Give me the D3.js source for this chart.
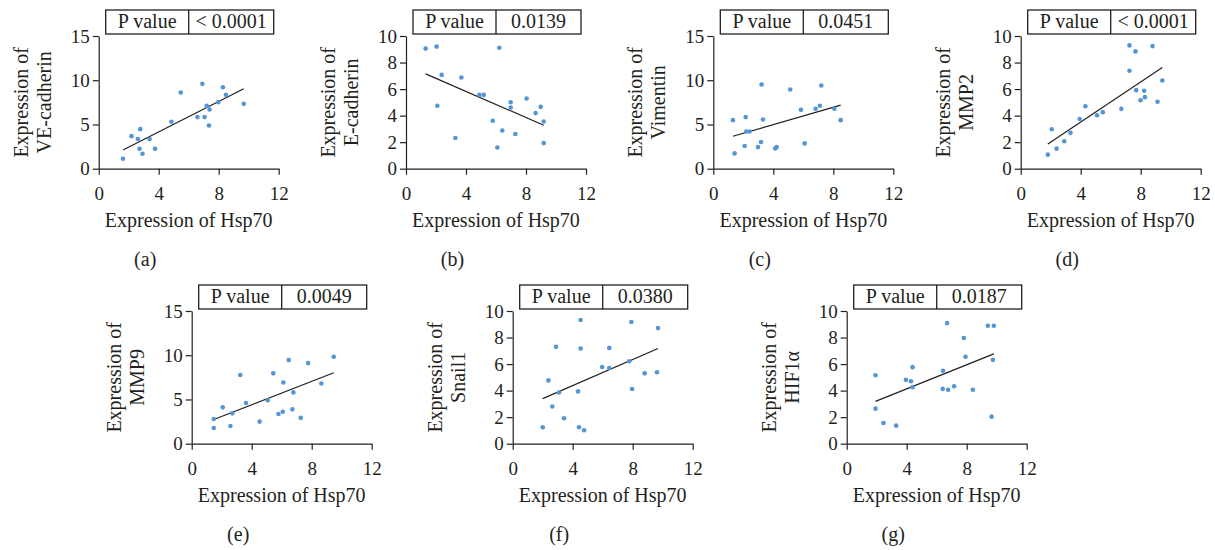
<!DOCTYPE html>
<html>
<head>
<meta charset="utf-8">
<script src="https://cdn.jsdelivr.net/npm/d3@7"></script>
<style>
	body { margin: 0; background: #fff; }
	svg text { font-family: "Liberation Serif", "DejaVu Serif", serif; fill: #231f20; }
</style>
</head>
<body>
<svg id="chart" width="1215" height="550"></svg>
<script>
"use strict";

// x = expression of Hsp70, y = expression of the marker
var veX = [1.62, 2.19, 2.61, 2.77, 2.72, 2.92, 3.39, 3.76, 4.85, 5.47, 6.58, 6.91, 7.06, 7.20, 7.39, 7.35, 7.97, 8.28, 8.48, 9.67];
var veY = [1.13, 3.68, 3.35, 4.47, 2.26, 1.69, 3.35, 2.26, 5.30, 8.61, 5.83, 9.59, 5.83, 7.11, 6.69, 4.89, 7.52, 9.21, 8.35, 7.33];

var ecadX = [1.31, 2.04, 2.09, 2.38, 3.29, 3.69, 4.89, 5.18, 5.78, 6.09, 6.22, 6.42, 6.98, 6.98, 7.29, 8.04, 8.64, 8.98, 9.18, 9.18];
var ecadY = [9.05, 9.20, 4.74, 7.07, 2.31, 6.87, 5.56, 5.56, 3.61, 1.60, 9.12, 2.88, 5.01, 4.61, 2.61, 5.29, 4.19, 4.66, 3.56, 1.93];

var vimX = [1.31, 1.42, 2.09, 2.16, 2.20, 2.42, 2.98, 3.18, 3.22, 3.31, 4.13, 4.22, 5.13, 5.84, 6.09, 6.82, 7.11, 7.20, 8.07, 8.49];
var vimY = [5.49, 1.73, 2.56, 5.83, 4.21, 4.21, 2.44, 3.01, 9.51, 5.56, 2.29, 2.44, 8.95, 6.65, 2.86, 6.77, 7.11, 9.40, 6.77, 5.49];

var mmp2X = [1.81, 2.07, 2.39, 2.90, 3.32, 3.93, 4.31, 5.09, 5.47, 6.71, 7.25, 7.25, 7.65, 7.70, 7.99, 8.23, 8.28, 8.79, 9.12, 9.44];
var mmp2Y = [1.06, 2.97, 1.51, 2.07, 2.70, 3.75, 4.71, 4.03, 4.26, 4.51, 9.29, 7.38, 8.84, 5.92, 5.16, 5.87, 5.39, 9.24, 5.04, 6.65];

var mmp9X = [1.47, 1.47, 2.07, 2.58, 2.71, 3.24, 3.62, 4.53, 5.07, 5.44, 5.78, 6.07, 6.11, 6.47, 6.71, 6.78, 7.27, 7.76, 8.64, 9.47];
var mmp9Y = [2.79, 1.77, 4.11, 2.00, 3.43, 7.76, 4.60, 2.50, 4.90, 7.95, 3.36, 3.62, 6.92, 9.45, 3.88, 5.80, 2.92, 9.11, 6.81, 9.83];

var snailX = [2.00, 2.38, 2.64, 2.89, 3.09, 3.42, 4.36, 4.42, 4.53, 4.53, 4.76, 5.96, 6.44, 6.44, 7.76, 7.91, 7.96, 8.80, 9.62, 9.69];
var snailY = [1.24, 4.77, 2.80, 7.30, 3.86, 1.92, 3.94, 1.24, 9.32, 7.17, 1.01, 5.78, 7.22, 5.71, 6.21, 9.17, 4.12, 5.30, 5.38, 8.71];

var hifX = [1.92, 1.92, 2.45, 3.30, 3.95, 4.28, 4.39, 4.39, 6.40, 6.42, 6.69, 6.76, 7.16, 7.81, 7.92, 8.41, 9.41, 9.66, 9.75, 9.81];
var hifY = [5.16, 2.64, 1.56, 1.36, 4.81, 4.71, 5.77, 4.26, 4.13, 5.49, 9.09, 4.06, 4.33, 7.96, 6.55, 4.06, 8.89, 2.04, 6.32, 8.89];

var markers = ["VE-cadherin", "E-cadherin", "Vimentin", "MMP2", "MMP9", "Snail1", "HIF1\u03b1"];
var pValues = ["< 0.0001", "0.0139", "0.0451", "< 0.0001", "0.0049", "0.0380", "0.0187"];
var captions = ["(a)", "(b)", "(c)", "(d)", "(e)", "(f)", "(g)"];
var yMax = [15, 10, 15, 10, 15, 10, 10];
var xTicks = [0, 4, 8, 12];

var seriesX = [veX, ecadX, vimX, mmp2X, mmp9X, snailX, hifX];
var seriesY = [veY, ecadY, vimY, mmp2Y, mmp9Y, snailY, hifY];

// where each plot area sits (left edge of axis, top of y range)
var origins = [[98.7, 36], [406, 36], [713.3, 36], [1020.7, 36], [191.7, 311], [512.7, 311], [846.7, 311]];
var plotW = 180, plotH = 132.7;
var serif = "'Liberation Serif', 'DejaVu Serif', serif";

var svg = d3.select("#chart");

for (var i = 0; i < markers.length; i++) {
	drawPanel(i);
}

function drawPanel(i) {
	var left = origins[i][0], top = origins[i][1];
	var g = svg.append("g").attr("transform", "translate(" + left + "," + top + ")");

	var x = d3.scaleLinear().domain([0, 12]).range([0, plotW]);
	var y = d3.scaleLinear().domain([0, yMax[i]]).range([plotH, 0]);
	var yTicks = yMax[i] == 15 ? [0, 5, 10, 15] : [0, 2, 4, 6, 8, 10];

	var xAxis = g.append("g").attr("transform", "translate(0," + plotH + ")")
		.call(d3.axisBottom(x).tickValues(xTicks).tickSize(6).tickSizeOuter(0).tickPadding(11.5));
	var yAxis = g.append("g")
		.call(d3.axisLeft(y).tickValues(yTicks).tickSize(6).tickSizeOuter(0).tickPadding(3));

	[xAxis, yAxis].forEach(function (ax) {
		ax.attr("font-family", serif).attr("font-size", 19);
		ax.select(".domain").attr("stroke", "#231f20").attr("stroke-width", 1.2);
		ax.selectAll(".tick line").attr("stroke", "#231f20").attr("stroke-width", 1.2);
		ax.selectAll(".tick text").attr("fill", "#231f20")
			.style("font-family", serif).style("font-size", "19px");
	});

	// least squares fit over the observed x range
	var xs = seriesX[i], ys = seriesY[i];
	var mx = d3.mean(xs), my = d3.mean(ys);
	var sxy = d3.sum(xs, function (v, k) { return (v - mx) * (ys[k] - my); });
	var sxx = d3.sum(xs, function (v) { return (v - mx) * (v - mx); });
	var slope = sxy / sxx, icpt = my - slope * mx;
	var ext = d3.extent(xs);

	g.append("line")
		.attr("x1", x(ext[0])).attr("y1", y(icpt + slope * ext[0]))
		.attr("x2", x(ext[1])).attr("y2", y(icpt + slope * ext[1]))
		.attr("stroke", "#231f20").attr("stroke-width", 1.2);

	g.selectAll("circle").data(xs).enter().append("circle")
		.attr("cx", function (d) { return x(d); })
		.attr("cy", function (d, k) { return y(ys[k]); })
		.attr("r", 2.3)
		.attr("fill", "#5296d5");

	// P value box
	var box = g.append("g").attr("transform", "translate(7,-26)");
	box.append("rect").attr("width", 168).attr("height", 24)
		.attr("fill", "none").attr("stroke", "#231f20").attr("stroke-width", 1.3);
	box.append("line").attr("x1", 83).attr("x2", 83).attr("y1", 0).attr("y2", 24)
		.attr("stroke", "#231f20").attr("stroke-width", 1.3);
	box.append("text").attr("x", 41.5).attr("y", 17.5).attr("text-anchor", "middle")
		.attr("font-size", 20).text("P value");
	box.append("text").attr("x", 125.5).attr("y", 17.5).attr("text-anchor", "middle")
		.attr("font-size", 20).text(pValues[i]);

	// y label, two lines
	var yl = g.append("text").attr("transform", "translate(0," + (plotH / 2) + ") rotate(-90)")
		.attr("text-anchor", "middle").attr("font-size", 20);
	yl.append("tspan").attr("x", 0).attr("y", -71).text("Expression of");
	yl.append("tspan").attr("x", 0).attr("y", -48).text(markers[i]);

	g.append("text").attr("x", plotW / 2).attr("y", plotH + 58)
		.attr("text-anchor", "middle").attr("font-size", 20).text("Expression of Hsp70");

	g.append("text").attr("x", 46.5).attr("y", plotH + 97)
		.attr("text-anchor", "middle").attr("font-size", 20).text(captions[i]);
}
</script>
</body>
</html>
